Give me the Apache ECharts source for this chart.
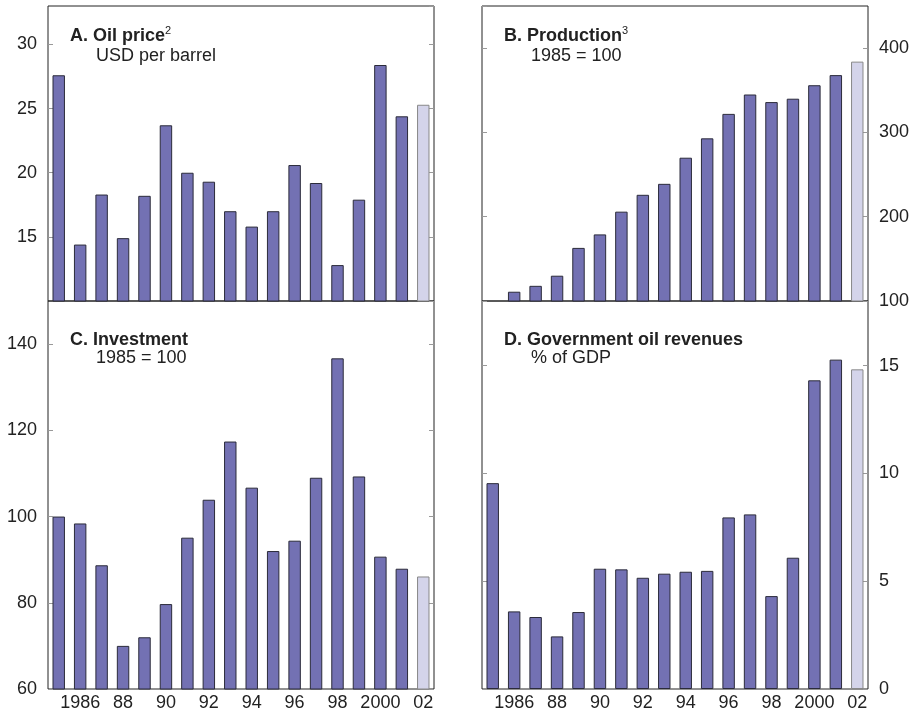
<!DOCTYPE html>
<html>
<head>
<meta charset="utf-8">
<script src="https://cdn.jsdelivr.net/npm/echarts@6/dist/echarts.min.js"></script>
<style>
  html, body { margin: 0; padding: 0; background: #fff; }
  #chart { width: 917px; height: 714px; }
</style>
</head>
<body>
<div id="chart"></div>
<script>
  // data
  const years = ['1985', '1986', '1987', '1988', '1989', '1990', '1991', '1992', '1993',
    '1994', '1995', '1996', '1997', '1998', '1999', '2000', '2001', '2002']
  const xLabels = ['', '1986', '', '88', '', '90', '', '92', '', '94', '', '96', '', '98', '', '2000', '', '02']

  const oilPrice = [27.6, 14.4, 18.3, 14.9, 18.2, 23.7, 20.0, 19.3, 17.0, 15.8, 17.0, 20.6, 19.2, 12.8, 17.9, 28.4, 24.4, 25.3]
  const production = [100, 111, 118, 130, 163, 179, 206, 226, 239, 270, 293, 322, 345, 336, 340, 356, 368, 384]
  const investment = [100, 98.4, 88.7, 70.0, 72.0, 79.7, 95.1, 103.9, 117.4, 106.7, 92.0, 94.4, 109.0, 136.7, 109.3, 90.7, 87.9, 86.1]
  const oilRevenues = [9.55, 3.6, 3.34, 2.44, 3.57, 5.58, 5.55, 5.16, 5.35, 5.44, 5.48, 7.96, 8.1, 4.31, 6.09, 14.32, 15.28, 14.83]

  const FONT = "'Liberation Sans', Arial, sans-serif"
  const BAR = '#7371b3'
  const BAR_LIGHT = '#d4d4ea'

  const chart = echarts.init(document.getElementById('chart'))

  const grids = [
    { left: 48, top: 6, width: 386, height: 295 },
    { left: 482, top: 6, width: 386, height: 295 },
    { left: 48, top: 301, width: 386, height: 388 },
    { left: 482, top: 301, width: 386, height: 388 }
  ].map(g => Object.assign({ show: true, borderColor: '#222', borderWidth: 1, backgroundColor: 'transparent' }, g))

  function xAxisFor(gridIndex, withLabels) {
    return {
      type: 'category',
      gridIndex: gridIndex,
      data: years,
      boundaryGap: true,
      axisLine: { show: false },
      axisTick: { show: false },
      axisLabel: {
        show: withLabels,
        interval: 0,
        margin: 5,
        color: '#222',
        fontSize: 18,
        fontFamily: FONT,
        formatter: (v, i) => xLabels[i]
      }
    }
  }

  // one labelled axis and one bare axis per panel, so ticks show on both sides
  function yAxesFor(gridIndex, min, max, interval, side, showMin) {
    const other = side === 'left' ? 'right' : 'left'
    const base = {
      type: 'value',
      gridIndex: gridIndex,
      min: min,
      max: max,
      interval: interval,
      splitLine: { show: false },
      axisLine: { show: false },
      axisTick: { show: true, inside: true, length: 5, lineStyle: { color: '#999' } }
    }
    return [
      Object.assign({}, base, {
        position: side,
        axisLabel: {
          show: true,
          margin: 11,
          color: '#222',
          fontSize: 18,
          fontFamily: FONT,
          showMinLabel: showMin,
          showMaxLabel: false
        }
      }),
      Object.assign({}, base, {
        position: other,
        axisLabel: { show: false }
      })
    ]
  }

  function barSeries(values, gridIndex) {
    const last = values.length - 1
    return {
      type: 'bar',
      xAxisIndex: gridIndex,
      yAxisIndex: gridIndex * 2,
      barWidth: '58%',
      itemStyle: { color: BAR, borderColor: '#2b2b3a', borderWidth: 1 },
      data: values.map((v, i) => i === last
        ? { value: v, itemStyle: { color: BAR_LIGHT, borderColor: '#888' } }
        : v),
      animation: false
    }
  }

  function panelTitle(text, left, top) {
    return {
      text: text,
      left: left,
      top: top,
      padding: 0,
      textStyle: {
        fontFamily: FONT,
        fontSize: 18,
        fontWeight: 'bold',
        color: '#222',
        lineHeight: 22,
        rich: {
          sup: { fontSize: 11, fontWeight: 'normal', color: '#222', verticalAlign: 'top', lineHeight: 22 }
        }
      }
    }
  }

  function panelSub(text, left, top) {
    return {
      text: text,
      left: left,
      top: top,
      padding: 0,
      textStyle: { fontFamily: FONT, fontSize: 18, fontWeight: 'normal', color: '#222' }
    }
  }

  chart.setOption({
    backgroundColor: '#fff',
    animation: false,
    title: [
      panelTitle('A. Oil price{sup|2}', 70, 25),
      panelSub('USD per barrel', 96, 47),
      panelTitle('B. Production{sup|3}', 504, 25),
      panelSub('1985 = 100', 531, 47),
      panelTitle('C. Investment', 70, 329),
      panelSub('1985 = 100', 96, 349),
      panelTitle('D. Government oil revenues', 504, 329),
      panelSub('% of GDP', 531, 349)
    ],
    grid: grids,
    xAxis: [
      xAxisFor(0, false),
      xAxisFor(1, false),
      xAxisFor(2, true),
      xAxisFor(3, true)
    ],
    yAxis: [].concat(
      yAxesFor(0, 10, 33, 5, 'left', false),
      yAxesFor(1, 100, 450, 100, 'right', true),
      yAxesFor(2, 60, 150, 20, 'left', true),
      yAxesFor(3, 0, 18, 5, 'right', true)
    ),
    series: [
      barSeries(oilPrice, 0),
      barSeries(production, 1),
      barSeries(investment, 2),
      barSeries(oilRevenues, 3)
    ]
  })
</script>
</body>
</html>
